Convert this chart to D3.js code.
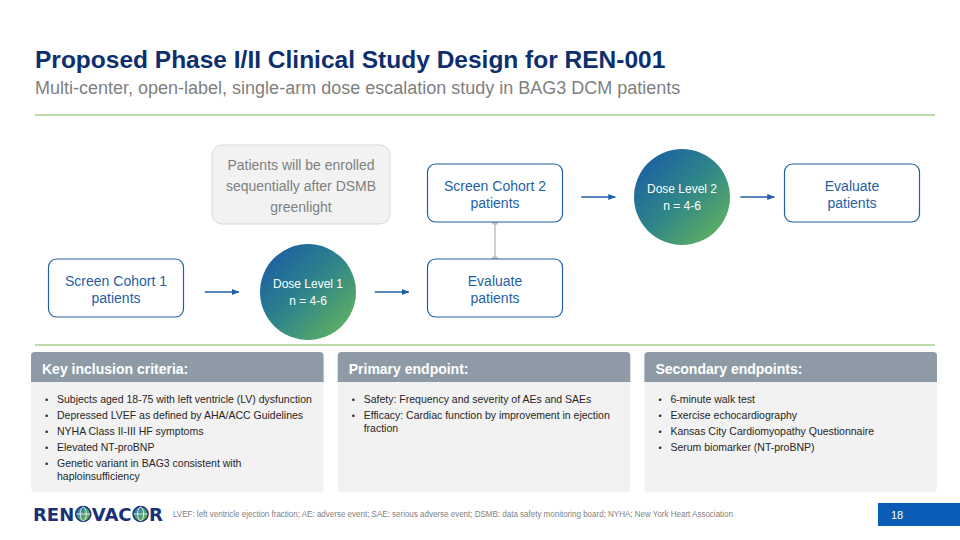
<!DOCTYPE html>
<html>
<head>
<meta charset="utf-8">
<script src="https://cdn.jsdelivr.net/npm/d3@7"></script>
<style>
  body { margin: 0; background: #fff; }
  svg { display: block; font-family: "Liberation Sans", Arial, sans-serif; }
</style>
</head>
<body>
<svg id="slide"></svg>
<script>
// ---- slide content ----
const titleText = "Proposed Phase I/II Clinical Study Design for REN-001";
const subtitleText = "Multi-center, open-label, single-arm dose escalation study in BAG3 DCM patients";

const stepLabels = [
  ["Screen Cohort 1", "patients"],
  ["Dose Level 1", "n = 4-6"],
  ["Evaluate", "patients"],
  ["Screen Cohort 2", "patients"],
  ["Dose Level 2", "n = 4-6"],
  ["Evaluate", "patients"]
];
const stepKinds = ["box", "dose", "box", "box", "dose", "box"];
const stepColumns = [0, 1, 2, 2, 3, 4];
const stepRows = ["lower", "lower", "lower", "upper", "upper", "upper"];
const arrowLinks = [[0, 1], [1, 2], [3, 4], [4, 5]];
const connectorLinks = [[3, 2]];

const noteLines = ["Patients will be enrolled", "sequentially after DSMB", "greenlight"];

const panelTitles = ["Key inclusion criteria:", "Primary endpoint:", "Secondary endpoints:"];
const inclusionCriteria = [
  ["Subjects aged 18-75 with left ventricle (LV) dysfunction"],
  ["Depressed LVEF as defined by AHA/ACC Guidelines"],
  ["NYHA Class II-III HF symptoms"],
  ["Elevated NT-proBNP"],
  ["Genetic variant in BAG3 consistent with", "haploinsufficiency"]
];
const primaryEndpoints = [
  ["Safety: Frequency and severity of AEs and SAEs"],
  ["Efficacy: Cardiac function by improvement in ejection", "fraction"]
];
const secondaryEndpoints = [
  ["6-minute walk test"],
  ["Exercise echocardiography"],
  ["Kansas City Cardiomyopathy Questionnaire"],
  ["Serum biomarker (NT-proBNP)"]
];
const panelBullets = [inclusionCriteria, primaryEndpoints, secondaryEndpoints];

const logoParts = ["REN", "o", "VAC", "o", "R"];
const footnoteText = "LVEF: left ventricle ejection fraction; AE: adverse event; SAE: serious adverse event; DSMB: data safety monitoring board; NYHA; New York Heart Association";
const pageNumber = "18";

// ---- drawing ----
const W = 960, H = 540;
const navy = "#0e2f6e", boxBlue = "#1f5fa6", ruleGreen = "#a9d08e";

const svg = d3.select("#slide").attr("width", W).attr("height", H);
const defs = svg.append("defs");

const grad = defs.append("linearGradient").attr("id", "doseGrad")
  .attr("x1", 0).attr("y1", 0).attr("x2", 1).attr("y2", 1);
grad.append("stop").attr("offset", "0%").attr("stop-color", "#1656a8");
grad.append("stop").attr("offset", "50%").attr("stop-color", "#2f8689");
grad.append("stop").attr("offset", "100%").attr("stop-color", "#6cbb57");

const globeGrad = defs.append("linearGradient").attr("id", "globeGrad")
  .attr("x1", 0).attr("y1", 0).attr("x2", 1).attr("y2", 1);
globeGrad.append("stop").attr("offset", "0%").attr("stop-color", "#1c6fc0");
globeGrad.append("stop").attr("offset", "100%").attr("stop-color", "#7cc242");

const arrowHead = defs.append("marker").attr("id", "arrow")
  .attr("viewBox", "0 0 10 10").attr("refX", 9).attr("refY", 5)
  .attr("markerWidth", 6).attr("markerHeight", 6).attr("orient", "auto");
arrowHead.append("path").attr("d", "M0,1 L10,5 L0,9 Z").attr("fill", boxBlue);

// title block
svg.append("text").attr("x", 35).attr("y", 68)
  .attr("font-size", 24.5).attr("font-weight", "bold").attr("fill", navy)
  .text(titleText);
svg.append("text").attr("x", 35).attr("y", 94)
  .attr("font-size", 18).attr("fill", "#7f7f7f")
  .text(subtitleText);

svg.selectAll("line.rule").data([115, 345]).join("line")
  .attr("class", "rule")
  .attr("x1", 35).attr("x2", 935).attr("y1", d => d).attr("y2", d => d)
  .attr("stroke", ruleGreen).attr("stroke-width", 1.5);

// flow layout scales
const colX = d3.scaleOrdinal().domain([0, 1, 2, 3, 4]).range([116, 308, 495, 682, 852]);
const rowY = d3.scaleOrdinal().domain(["upper", "lower"]).range([193, 288]);

const steps = stepLabels.map((lines, i) => ({
  lines, kind: stepKinds[i], x: colX(stepColumns[i]), y: rowY(stepRows[i])
}));

const boxW = 135, boxH = 58, doseR = 48, doseDy = 4;

// note box
const note = svg.append("g").attr("transform", "translate(301,185)");
note.append("rect").attr("x", -89).attr("y", -40).attr("width", 178).attr("height", 79)
  .attr("rx", 10).attr("fill", "#f2f2f2").attr("stroke", "#d9d9d9");
note.selectAll("text").data(noteLines).join("text")
  .attr("x", 0).attr("y", (d, i) => -15 + i * 21)
  .attr("text-anchor", "middle").attr("font-size", 14).attr("fill", "#7f7f7f")
  .text(d => d);

// gray connector
connectorLinks.forEach(([a, b]) => {
  const s = steps[a], t = steps[b];
  const y1 = s.y + boxH / 2, y2 = t.y - boxH / 2;
  svg.append("line").attr("x1", s.x).attr("x2", t.x).attr("y1", y1).attr("y2", y2)
    .attr("stroke", "#bfbfbf").attr("stroke-width", 1.5);
  svg.selectAll(null).data([y1, y2]).join("circle")
    .attr("cx", s.x).attr("cy", d => d).attr("r", 3).attr("fill", "#bfbfbf");
});

// arrows, centred in the gap between neighbouring steps
const edge = s => s.kind === "dose" ? doseR : boxW / 2;
const arrowLen = 34;
const gapMid = d => (steps[d[0]].x + edge(steps[d[0]]) + steps[d[1]].x - edge(steps[d[1]])) / 2;
svg.selectAll("line.arrow").data(arrowLinks).join("line")
  .attr("class", "arrow")
  .attr("x1", d => gapMid(d) - arrowLen / 2)
  .attr("x2", d => gapMid(d) + arrowLen / 2)
  .attr("y1", d => steps[d[0]].y + doseDy).attr("y2", d => steps[d[1]].y + doseDy)
  .attr("stroke", boxBlue).attr("stroke-width", 1.3)
  .attr("marker-end", "url(#arrow)");

// steps
const stepG = svg.selectAll("g.step").data(steps).join("g")
  .attr("class", "step")
  .attr("transform", d => `translate(${d.x},${d.y})`);

stepG.filter(d => d.kind === "box").append("rect")
  .attr("x", -boxW / 2).attr("y", -boxH / 2).attr("width", boxW).attr("height", boxH)
  .attr("rx", 8).attr("fill", "#fff").attr("stroke", boxBlue).attr("stroke-width", 1.2);

stepG.filter(d => d.kind === "dose").append("circle")
  .attr("cx", 0).attr("cy", doseDy).attr("r", doseR).attr("fill", "url(#doseGrad)");

stepG.each(function (d) {
  const dose = d.kind === "dose";
  d3.select(this).selectAll("text").data(d.lines).join("text")
    .attr("x", 0)
    .attr("y", (t, i) => (dose ? 0 : -2) + i * 17)
    .attr("text-anchor", "middle")
    .attr("font-size", dose ? 12 : 14)
    .attr("fill", dose ? "#fff" : boxBlue)
    .text(t => t);
});

// bottom panels
const panelX = d3.scaleBand().domain(panelTitles).range([31, 937]).paddingInner(0.046);
const panelTop = 352, panelBottom = 492, headH = 30;

const panel = svg.selectAll("g.panel").data(panelTitles).join("g")
  .attr("class", "panel")
  .attr("transform", d => `translate(${panelX(d)},${panelTop})`);

panel.append("rect").attr("width", panelX.bandwidth()).attr("height", panelBottom - panelTop)
  .attr("rx", 4).attr("fill", "#f2f2f2");
panel.append("path")
  .attr("d", () => {
    const w = panelX.bandwidth(), r = 4;
    return `M0,${headH} V${r} Q0,0 ${r},0 H${w - r} Q${w},0 ${w},${r} V${headH} Z`;
  })
  .attr("fill", "#8e9ba7");
panel.append("text").attr("x", 11).attr("y", 22)
  .attr("font-size", 14).attr("font-weight", "bold").attr("fill", "#fff")
  .text(d => d);

panel.each(function (title, pi) {
  const g = d3.select(this);
  let y = 51;
  panelBullets[pi].forEach(lines => {
    g.append("text").attr("x", 14).attr("y", y)
      .attr("font-size", 9).attr("fill", "#262626").text("•");
    lines.forEach((line, li) => {
      g.append("text").attr("x", 26).attr("y", y + li * 13)
        .attr("font-size", 10.5).attr("fill", "#262626").text(line);
    });
    y += 16 + (lines.length - 1) * 13;
  });
});

// footer: logo
let lx = 33;
logoParts.forEach(part => {
  if (part === "o") {
    const cx = lx + 8.5, cy = 514;
    const gl = svg.append("g");
    gl.append("circle").attr("cx", cx).attr("cy", cy).attr("r", 7.5)
      .attr("fill", "url(#globeGrad)").attr("stroke", "#1a3175").attr("stroke-width", 1.6);
    gl.append("ellipse").attr("cx", cx).attr("cy", cy).attr("rx", 3).attr("ry", 7)
      .attr("fill", "none").attr("stroke", "#fff").attr("stroke-width", 0.8);
    gl.append("line").attr("x1", cx - 7).attr("x2", cx + 7).attr("y1", cy).attr("y2", cy)
      .attr("stroke", "#fff").attr("stroke-width", 0.8);
    lx += 17;
  } else {
    const t = svg.append("text").attr("x", lx).attr("y", 521)
      .attr("font-size", 18).attr("font-weight", "bold").attr("fill", "#1a3175")
      .attr("font-family", "'DejaVu Sans', sans-serif").text(part);
    lx += t.node().getComputedTextLength() + 0.5;
  }
});

svg.append("text").attr("x", 173).attr("y", 517)
  .attr("font-size", 8.5).attr("fill", "#7f7f7f")
  .attr("textLength", 560).attr("lengthAdjust", "spacingAndGlyphs")
  .text(footnoteText);

svg.append("rect").attr("x", 878).attr("y", 503).attr("width", 82).attr("height", 23)
  .attr("fill", "#0b5cb6");
svg.append("text").attr("x", 891).attr("y", 519)
  .attr("font-size", 11).attr("fill", "#fff").text(pageNumber);
</script>
</body>
</html>
